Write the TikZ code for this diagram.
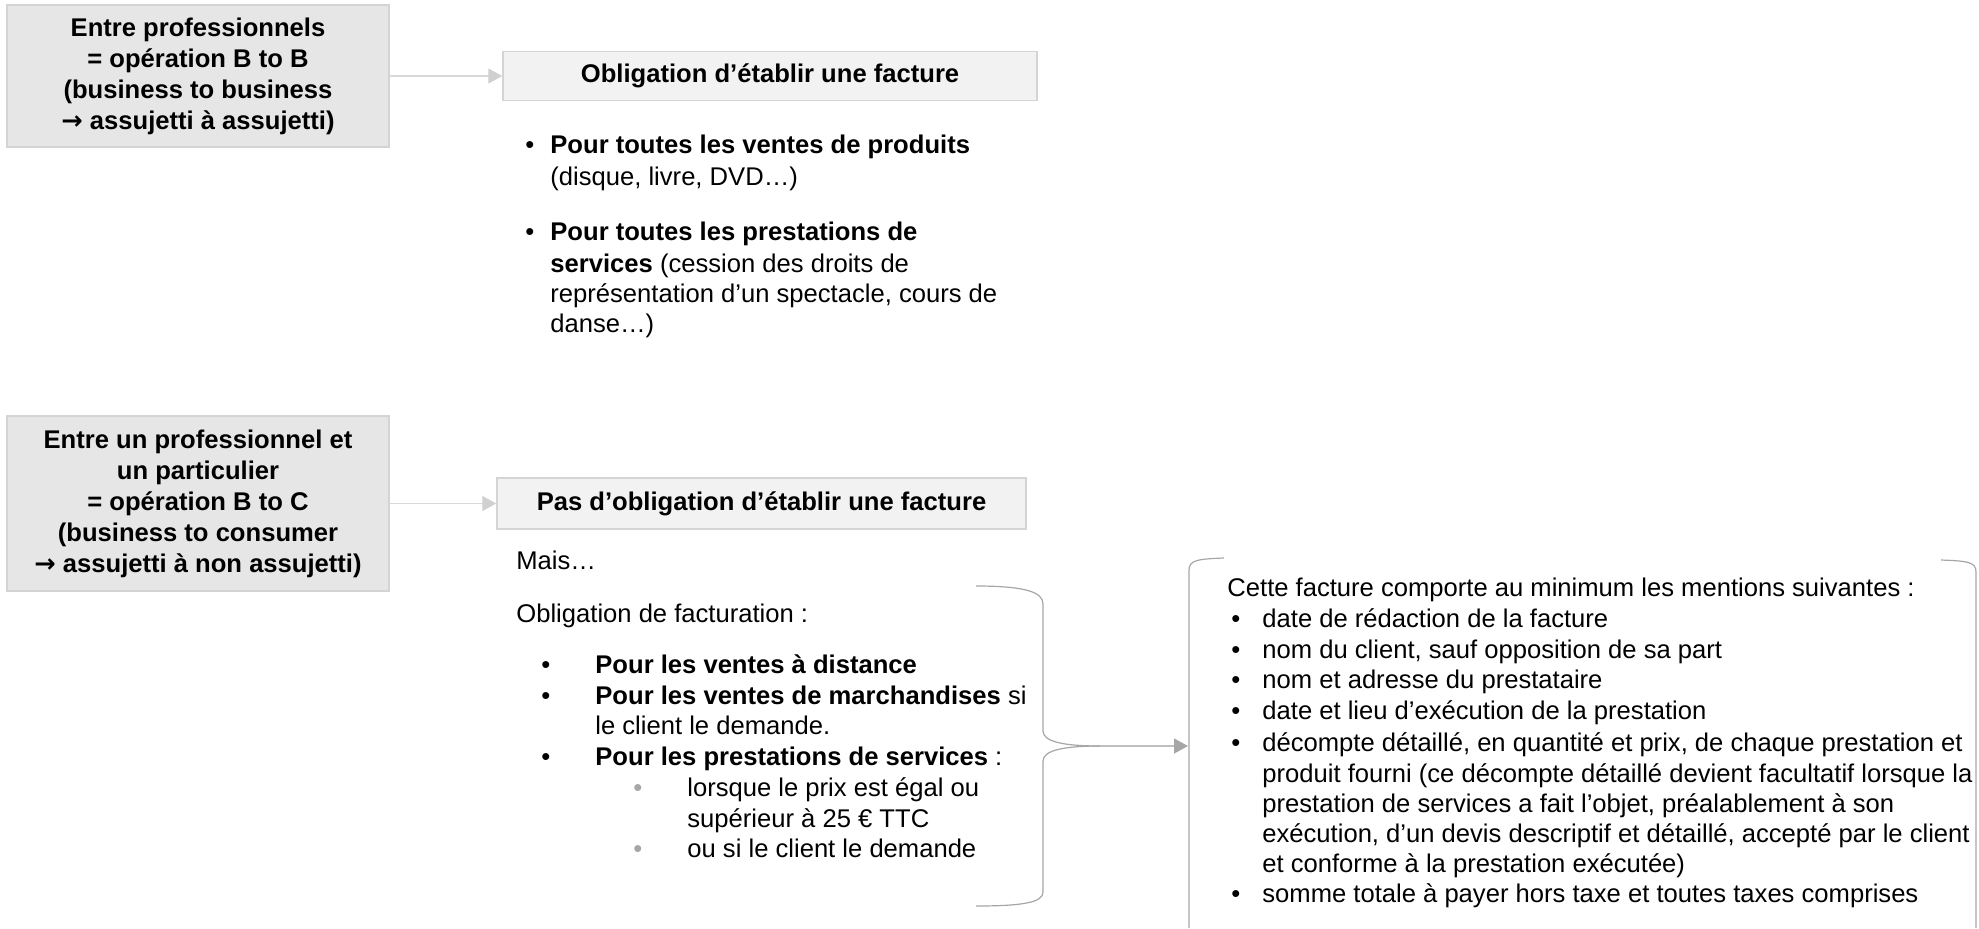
\documentclass[tikz,border=0pt]{standalone}
\usepackage{fontspec}
\setmainfont{Liberation Sans}
\newfontfamily\arrfont{DejaVu Sans}
\usetikzlibrary{arrows.meta}
\definecolor{fillA}{HTML}{E6E6E6}
\definecolor{fillB}{HTML}{F2F2F2}
\definecolor{lineA}{HTML}{D4D4D4}
\definecolor{arrl}{HTML}{D9D9D9}
\definecolor{arrh}{HTML}{D0D0D0}
\definecolor{arrlb}{HTML}{BFBFBF}
\definecolor{arrhb}{HTML}{A6A6A6}
\definecolor{brc}{HTML}{A6A6A6}
\definecolor{subb}{HTML}{A6A6A6}
\newcommand{\fsz}{\fontsize{12.8pt}{15.5pt}\selectfont}
\newcommand{\barr}{{\arrfont\bfseries →}}
\tikzset{
  boxa/.style={draw=lineA, fill=fillA, line width=0.75pt, inner sep=0pt,
    minimum width=191pt, minimum height=71pt, align=center, font=\fsz\bfseries},
  boxb/.style={draw=lineA, fill=fillB, line width=0.75pt, inner sep=0pt,
    minimum width=267pt, minimum height=24.5pt, align=center, font=\fsz\bfseries},
  ln/.style={anchor=base west, inner sep=0pt, font=\fsz},
  sub/.style={ln, text=subb},
  arr/.style={draw=arrl, line width=0.7pt, -{Triangle[length=7pt,width=7.5pt,color=arrh]}},
  arrb/.style={draw=arrlb, line width=0.7pt, -{Triangle[length=7pt,width=7.5pt,color=arrhb]}},
  brc/.style={draw=brc, line width=0.6pt},
}
\begin{document}
\begin{tikzpicture}[x=0.5pt,y=-0.5pt]
\useasboundingbox (0,0) rectangle (1979,928);

% left boxes
\node[boxa] (pro) at (198,76) {Entre professionnels\\= opération B to B\\(business to business\\\barr{} assujetti à assujetti)};
\node[boxa, minimum height=87.5pt] (part) at (198,503.5) {Entre un professionnel et\\un particulier\\= opération B to C\\(business to consumer\\\barr{} assujetti à non assujetti)};

% right boxes
\node[boxb] (obl) at (770,76) {Obligation d’établir une facture};
\node[boxb, minimum width=264.5pt, minimum height=25.5pt] (pas) at (761.5,503.5) {Pas d’obligation d’établir une facture};

\draw[arr] (pro.east) -- (obl.west);
\draw[arr] (part.east) -- (pas.west);

% list 1
\node[ln] (b1) at (525,153) {•};
\node[ln] (t1a) at (550,153) {\bfseries Pour toutes les ventes de produits};
\node[ln] (t1b) at (550,185) {(disque, livre, DVD…)};
\node[ln] (b2) at (525,240) {•};
\node[ln] (t2a) at (550,240) {\bfseries Pour toutes les prestations de};
\node[ln] (t2b) at (550,272) {\textbf{services} (cession des droits de};
\node[ln] (t2c) at (550,302) {représentation d’un spectacle, cours de};
\node[ln] (t2d) at (550,332) {danse…)};

% list 2
\node[ln] (mais) at (516,569) {Mais…};
\node[ln] (oblf) at (516,622) {Obligation de facturation :};
\node[ln] (c1) at (541,673) {•};
\node[ln] (u1) at (595,673) {\bfseries Pour les ventes à distance};
\node[ln] (c2) at (541,704) {•};
\node[ln] (u2a) at (595,704) {\textbf{Pour les ventes de marchandises} si};
\node[ln] (u2b) at (595,734) {le client le demande.};
\node[ln] (c3) at (541,765) {•};
\node[ln] (u3) at (595,765) {\textbf{Pour les prestations de services} :};
\node[sub] (d1) at (633,796) {•};
\node[ln] (v1a) at (687,796) {lorsque le prix est égal ou};
\node[ln] (v1b) at (687,827) {supérieur à 25 € TTC};
\node[sub] (d2) at (633,857) {•};
\node[ln] (v2) at (687,857) {ou si le client le demande};

% brace
\coordinate (tip) at (1100,746);
\draw[brc] (976,586) .. controls (1025,586) and (1043,592) .. (1043,604) -- (1043,731) .. controls (1043,742) and (1065,746) .. (tip);
\draw[brc] (tip) .. controls (1065,746) and (1043,750) .. (1043,761) -- (1043,892) .. controls (1043,902) and (1025,906) .. (976,906);
\coordinate (eL) at (1188,746);
\draw[arrb] (tip) -- (eL);

% brackets of the right block
\draw[brc] (1224,558) .. controls (1198,559) and (1189,560) .. (1189,570) -- (1189,928);
\draw[brc] (1941,560) .. controls (1968,561) and (1976,562) .. (1976,572) -- (1976,928);

% right block text
\node[ln] (head) at (1227,596) {Cette facture comporte au minimum les mentions suivantes :};
\node[ln] (e1) at (1231,627) {•};
\node[ln] (f1) at (1262,627) {date de rédaction de la facture};
\node[ln] (e2) at (1231,658) {•};
\node[ln] (f2) at (1262,658) {nom du client, sauf opposition de sa part};
\node[ln] (e3) at (1231,688) {•};
\node[ln] (f3) at (1262,688) {nom et adresse du prestataire};
\node[ln] (e4) at (1231,719) {•};
\node[ln] (f4) at (1262,719) {date et lieu d’exécution de la prestation};
\node[ln] (e5) at (1231,751) {•};
\node[ln] (f5a) at (1262,751) {décompte détaillé, en quantité et prix, de chaque prestation et};
\node[ln] (f5b) at (1262,782) {produit fourni (ce décompte détaillé devient facultatif lorsque la};
\node[ln] (f5c) at (1262,812) {prestation de services a fait l’objet, préalablement à son};
\node[ln] (f5d) at (1262,842) {exécution, d'un devis descriptif et détaillé, accepté par le client};
\node[ln] (f5e) at (1262,872) {et conforme à la prestation exécutée)};
\node[ln] (e6) at (1231,902) {•};
\node[ln] (f6) at (1262,902) {somme totale à payer hors taxe et toutes taxes comprises};
\end{tikzpicture}
\end{document}
